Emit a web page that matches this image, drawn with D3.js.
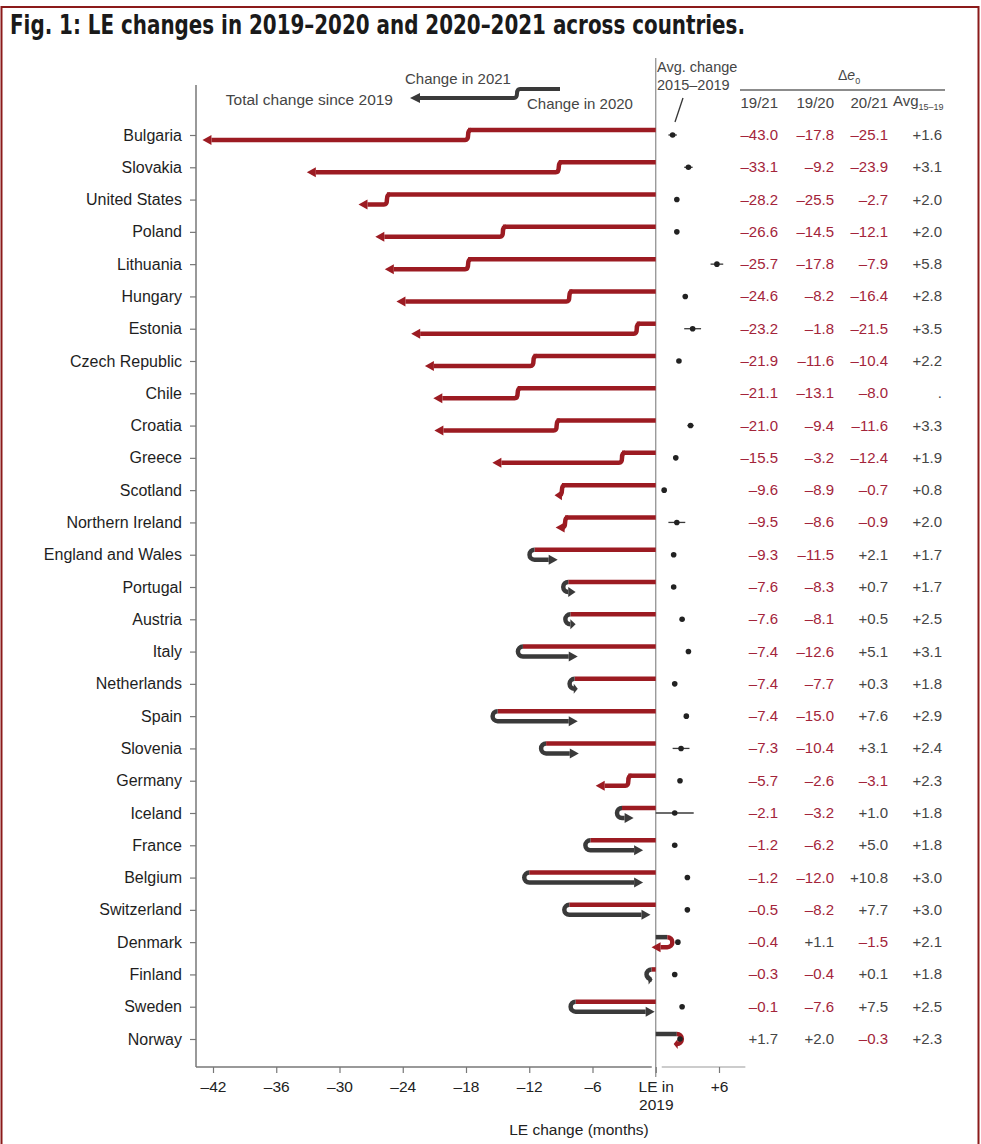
<!DOCTYPE html>
<html>
<head>
<meta charset="utf-8">
<script src="https://cdn.jsdelivr.net/npm/d3@7"></script>
<style>
  body { margin: 0; background: #fff; }
  svg text { font-family: "Liberation Sans", Arial, sans-serif; }
</style>
</head>
<body>
<div id="chart"></div>
<script>
// data (months of life expectancy)
var countries = ["Bulgaria", "Slovakia", "United States", "Poland", "Lithuania", "Hungary", "Estonia",
  "Czech Republic", "Chile", "Croatia", "Greece", "Scotland", "Northern Ireland", "England and Wales",
  "Portugal", "Austria", "Italy", "Netherlands", "Spain", "Slovenia", "Germany", "Iceland", "France",
  "Belgium", "Switzerland", "Denmark", "Finland", "Sweden", "Norway"];
var change1921 = [-43.0, -33.1, -28.2, -26.6, -25.7, -24.6, -23.2, -21.9, -21.1, -21.0, -15.5, -9.6, -9.5,
  -9.3, -7.6, -7.6, -7.4, -7.4, -7.4, -7.3, -5.7, -2.1, -1.2, -1.2, -0.5, -0.4, -0.3, -0.1, 1.7];
var change1920 = [-17.8, -9.2, -25.5, -14.5, -17.8, -8.2, -1.8, -11.6, -13.1, -9.4, -3.2, -8.9, -8.6,
  -11.5, -8.3, -8.1, -12.6, -7.7, -15.0, -10.4, -2.6, -3.2, -6.2, -12.0, -8.2, 1.1, -0.4, -7.6, 2.0];
var change2021 = [-25.1, -23.9, -2.7, -12.1, -7.9, -16.4, -21.5, -10.4, -8.0, -11.6, -12.4, -0.7, -0.9,
  2.1, 0.7, 0.5, 5.1, 0.3, 7.6, 3.1, -3.1, 1.0, 5.0, 10.8, 7.7, -1.5, 0.1, 7.5, -0.3];
var avg1519 = [1.6, 3.1, 2.0, 2.0, 5.8, 2.8, 3.5, 2.2, null, 3.3, 1.9, 0.8, 2.0, 1.7, 1.7, 2.5, 3.1, 1.8,
  2.9, 2.4, 2.3, 1.8, 1.8, 3.0, 3.0, 2.1, 1.8, 2.5, 2.3];
// half width of the little range line around the avg dot (estimated)
var avgSpread = [0.4, 0.4, 0, 0, 0.6, 0, 0.8, 0, 0, 0.3, 0, 0, 0.8, 0, 0, 0, 0, 0, 0, 0.8, 0, 1.8, 0,
  0, 0, 0, 0, 0, 0];
var xTicks = [-42, -36, -30, -24, -18, -12, -6, 0, 6];

var red = "#9c1b22",
    dark = "#3a3a3a",
    redText = "#a3243a",
    grayText = "#454545";

var width = 981, height = 1144;

var svg = d3.select("#chart").append("svg")
  .attr("width", width)
  .attr("height", height);

svg.append("rect")
  .attr("x", 1.5).attr("y", 7)
  .attr("width", 977).attr("height", 1150)
  .attr("fill", "#fff")
  .attr("stroke", "#8b1a1a")
  .attr("stroke-width", 2);

svg.append("text")
  .attr("x", 10).attr("y", 34)
  .attr("textLength", 735)
  .attr("lengthAdjust", "spacingAndGlyphs")
  .style("font-family", "'DejaVu Sans Condensed', 'Liberation Sans Narrow', sans-serif")
  .style("font-weight", "bold")
  .style("font-size", "26px")
  .attr("fill", "#1a1a1a")
  .text("Fig. 1: LE changes in 2019\u20132020 and 2020\u20132021 across countries.");

var x = d3.scaleLinear().domain([-42, 6]).range([213, 719]);
var y = d3.scalePoint().domain(countries).range([135, 1039]);

var rows = countries.map(function (c, i) {
  return {
    name: c,
    total: change1921[i],
    v20: change1920[i],
    v21: change2021[i],
    avg: avg1519[i],
    spread: avgSpread[i]
  };
});

// axes
var baseY = 1067;

svg.append("line")
  .attr("x1", 196).attr("x2", 196)
  .attr("y1", 85).attr("y2", baseY)
  .attr("stroke", "#777").attr("stroke-width", 1.5);
svg.append("line")
  .attr("x1", 196).attr("x2", x(0) - 4)
  .attr("y1", baseY).attr("y2", baseY)
  .attr("stroke", "#777").attr("stroke-width", 1.5);
svg.append("line")
  .attr("x1", x(0) + 6).attr("x2", x(8.5))
  .attr("y1", baseY).attr("y2", baseY)
  .attr("stroke", "#999").attr("stroke-width", 1.2);
svg.append("line")
  .attr("x1", x(0)).attr("x2", x(0))
  .attr("y1", 58).attr("y2", 1077)
  .attr("stroke", "#8a8a8a").attr("stroke-width", 1.2);

var xAxis = svg.append("g")
  .attr("transform", "translate(0," + baseY + ")")
  .call(d3.axisBottom(x).tickValues(xTicks).tickSize(6).tickPadding(8)
    .tickFormat(function (d) {
      if (d == 0) return "";
      return d > 0 ? "+" + d : "\u2013" + Math.abs(d);
    }));
xAxis.select(".domain").remove();
xAxis.selectAll(".tick line").attr("stroke", "#777").attr("stroke-width", 1.2);
xAxis.selectAll(".tick text")
  .attr("fill", "#222")
  .style("font-size", "15.5px");
xAxis.selectAll(".tick").filter(function (d) { return d == 0; })
  .select("text")
  .call(function (t) {
    t.append("tspan").attr("x", 0).text("LE in");
    t.append("tspan").attr("x", 0).attr("dy", "1.15em").text("2019");
  });

svg.append("text")
  .attr("x", 579).attr("y", 1135)
  .attr("text-anchor", "middle")
  .attr("fill", "#222")
  .style("font-size", "15.5px")
  .text("LE change (months)");

var yAxis = svg.append("g")
  .attr("transform", "translate(196,0)")
  .call(d3.axisLeft(y).tickSize(6).tickPadding(8));
yAxis.select(".domain").remove();
yAxis.selectAll(".tick line").attr("stroke", "#777").attr("stroke-width", 1.2);
yAxis.selectAll(".tick text")
  .attr("fill", "#1e1e1e")
  .style("font-size", "16px");

// arrows
var gap = 5, headLen = 9, headW = 5;
var plot = svg.append("g").attr("class", "arrows");

rows.forEach(function (d) {
  var cy = y(d.name),
      yu = cy - gap,
      yl = cy + gap,
      x0 = x(0),
      xa = x(d.v20),
      xt = x(d.total),
      dir1 = d.v20 < 0 ? -1 : 1,
      dir2 = d.v21 < 0 ? -1 : 1,
      col1 = d.v20 < 0 ? red : dark,
      col2 = d.v21 < 0 ? red : dark;

  var len = Math.abs(xt - xa);
  var hl = Math.min(headLen, Math.max(4, len));
  var base = xt - dir2 * hl;

  plot.append("line")
    .attr("x1", x0).attr("x2", xa)
    .attr("y1", yu).attr("y2", yu)
    .attr("stroke", col1)
    .attr("stroke-width", 4.5);

  var p;
  if (dir1 == dir2) {
    p = "M" + (xa - dir2 * 3) + "," + yu +
      "Q" + xa + "," + yu + " " + xa + "," + cy +
      "Q" + xa + "," + yl + " " + (xa + dir2 * 3) + "," + yl +
      "H" + base;
  } else {
    var sweep = dir1 < 0 ? 0 : 1;
    p = "M" + xa + "," + yu +
      "A" + gap + " " + gap + " 0 0 " + sweep + " " + xa + "," + yl +
      "H" + base;
  }
  plot.append("path")
    .attr("d", p)
    .attr("fill", "none")
    .attr("stroke", col2)
    .attr("stroke-width", 4.5);

  plot.append("path")
    .attr("d", "M" + xt + "," + yl + "L" + base + "," + (yl - headW) + "L" + base + "," + (yl + headW) + "Z")
    .attr("fill", col2);
});

// avg change 2015-2019 dots
var dots = svg.append("g").attr("class", "avg");
rows.filter(function (d) { return d.avg != null; }).forEach(function (d) {
  if (d.spread > 0) {
    dots.append("line")
      .attr("x1", x(d.avg - d.spread)).attr("x2", x(d.avg + d.spread))
      .attr("y1", y(d.name)).attr("y2", y(d.name))
      .attr("stroke", dark).attr("stroke-width", 1.3);
  }
  dots.append("circle")
    .attr("cx", x(d.avg)).attr("cy", y(d.name))
    .attr("r", 2.8)
    .attr("fill", "#222");
});

// table
function fmt(v) {
  if (v == null) return ".";
  return (v > 0 ? "+" : v < 0 ? "\u2013" : "") + Math.abs(v).toFixed(1);
}
var columns = [
  { key: "total", x: 778, head: "19/21" },
  { key: "v20", x: 834, head: "19/20" },
  { key: "v21", x: 888, head: "20/21" },
  { key: "avg", x: 942, head: null }
];
var table = svg.append("g").attr("class", "table");
columns.forEach(function (c) {
  if (c.head) {
    table.append("text")
      .attr("x", c.x).attr("y", 108)
      .attr("text-anchor", "end")
      .attr("fill", grayText)
      .style("font-size", "15px")
      .text(c.head);
  }
  table.selectAll(null)
    .data(rows)
    .enter()
    .append("text")
    .attr("x", c.x)
    .attr("y", function (d) { return y(d.name) + 5; })
    .attr("text-anchor", "end")
    .attr("fill", function (d) {
      return d[c.key] != null && d[c.key] < 0 ? redText : grayText;
    })
    .style("font-size", "15px")
    .text(function (d) { return fmt(d[c.key]); });
});

var avgHead = table.append("text")
  .attr("x", 893).attr("y", 106)
  .attr("fill", grayText)
  .style("font-size", "15px");
avgHead.append("tspan").text("Avg");
avgHead.append("tspan").attr("dy", 4).style("font-size", "9px").text("15\u201319");

var dHead = table.append("text")
  .attr("x", 838).attr("y", 80)
  .attr("fill", grayText)
  .style("font-size", "14px");
dHead.append("tspan").text("\u0394");
dHead.append("tspan").style("font-style", "italic").text("e");
dHead.append("tspan").attr("dy", 4).style("font-size", "9px").text("0");

table.append("line")
  .attr("x1", 740).attr("x2", 945)
  .attr("y1", 90).attr("y2", 90)
  .attr("stroke", "#666").attr("stroke-width", 1.3);

table.append("text")
  .attr("x", 657).attr("y", 72)
  .attr("fill", grayText)
  .style("font-size", "14.5px")
  .text("Avg. change");
table.append("text")
  .attr("x", 657).attr("y", 90)
  .attr("fill", grayText)
  .style("font-size", "14.5px")
  .text("2015\u20132019");
table.append("line")
  .attr("x1", 683).attr("x2", 675)
  .attr("y1", 98).attr("y2", 122)
  .attr("stroke", "#333").attr("stroke-width", 1.3);

// legend
var legend = svg.append("g").attr("class", "legend");
legend.append("path")
  .attr("d", "M560,89 H520 Q517,89 517,93.5 Q517,98 514,98 H420")
  .attr("fill", "none")
  .attr("stroke", dark)
  .attr("stroke-width", 4);
legend.append("path")
  .attr("d", "M410,98 L420,93 L420,103 Z")
  .attr("fill", dark);
legend.append("text")
  .attr("x", 405).attr("y", 84)
  .attr("fill", grayText)
  .style("font-size", "15px")
  .text("Change in 2021");
legend.append("text")
  .attr("x", 527).attr("y", 109)
  .attr("fill", grayText)
  .style("font-size", "15px")
  .text("Change in 2020");
legend.append("text")
  .attr("x", 393).attr("y", 105)
  .attr("text-anchor", "end")
  .attr("fill", grayText)
  .style("font-size", "15.5px")
  .text("Total change since 2019");
</script>
</body>
</html>
